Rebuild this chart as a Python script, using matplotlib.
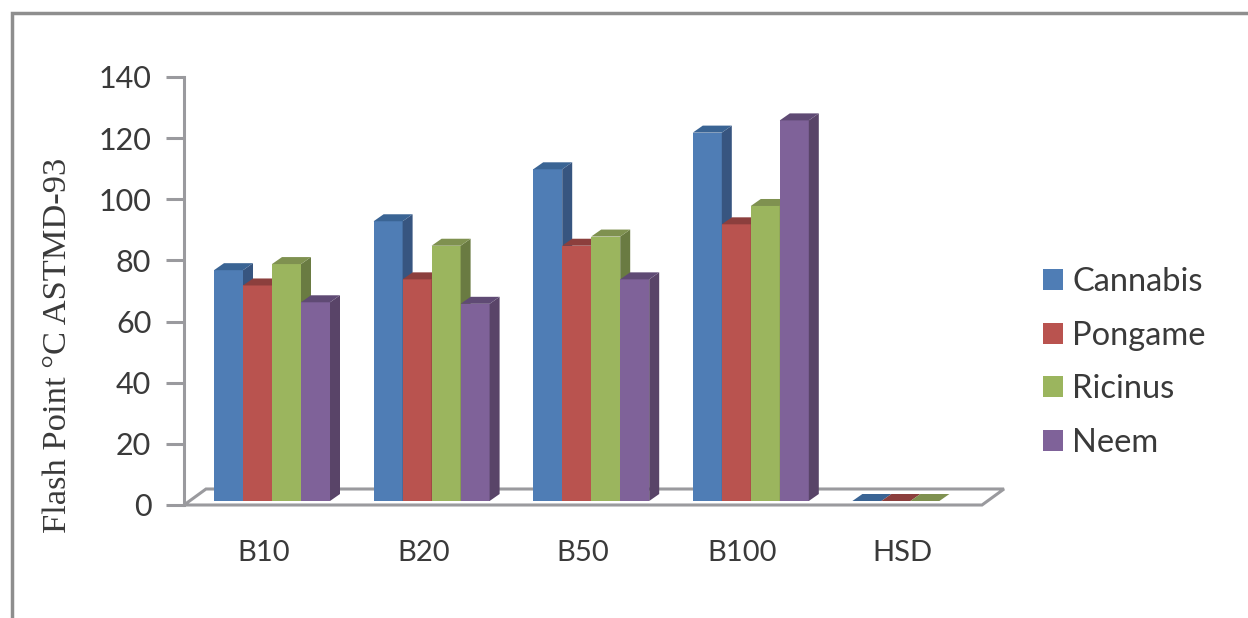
import numpy as np
import matplotlib.pyplot as plt
from matplotlib.lines import Line2D
from matplotlib.patches import Polygon

categories = ["B10", "B20", "B50", "B100", "HSD"]
cannabis = [75.5, 91.5, 108.5, 120.5, 0]
pongame = [70.5, 72.5, 83.5, 90.5, 0]
ricinus = [77.5, 83.5, 86.5, 96.5, 0]
neem = [65, 64.5, 72.5, 124.5, 0]
y_ticks = [0, 20, 40, 60, 80, 100, 120, 140]

names = ["Cannabis", "Pongame", "Ricinus", "Neem"]
series = [cannabis, pongame, ricinus, neem]
front = ["#4F7DB5", "#B9534F", "#9BB55E", "#7F6299"]
top = ["#3A6494", "#8C3F3D", "#7F9150", "#5F4A74"]
side = ["#375580", "#7E3A38", "#6A7B42", "#594468"]

W, H = 1248, 618
GRAY = "#9A9A9E"
TEXT = "#3A3A3A"
plt.rcParams['font.family'] = ['Lato', 'DejaVu Sans']

fig = plt.figure(figsize=(W / 100, H / 100), dpi=100)
# axes = front plane of the 3D box
ax = fig.add_axes([184 / W, 1 - 505 / H, 798 / W, 428 / H])
ax.set_xlim(0, 5)
ax.set_ylim(0, 140)
ax.patch.set_visible(False)
for s in ["top", "right", "bottom"]:
    ax.spines[s].set_visible(False)
ax.spines["left"].set_color(GRAY)
ax.spines["left"].set_linewidth(2.2)

# depth offsets in data units
px_x = 5 / 798
px_y = 140 / 428
floor_dx, floor_dy = 22 * px_x, 16 * px_y
bar_dx, bar_dy = 10 * px_x, 7 * px_y
bar_w = 29 * px_x
bar_base = 4 * px_y
first_left = 30 * px_x

# floor
ax.add_patch(Polygon([(0, 0), (floor_dx, floor_dy), (5 + floor_dx, floor_dy), (5, 0)],
                     closed=True, facecolor="white", edgecolor=GRAY, linewidth=2.2,
                     clip_on=False, zorder=1, joinstyle="miter"))

for c in range(len(categories)):
    for i in range(len(names)):
        v = series[i][c]
        if c == 4 and i == 3:
            continue
        x0 = c + first_left + i * bar_w
        x1 = x0 + bar_w
        y1 = bar_base + v
        if v > 0:
            ax.bar(x0, v, bar_w, bottom=bar_base, align="edge", color=front[i], zorder=3 + i * 0.01)
            ax.add_patch(Polygon([(x1, bar_base), (x1 + bar_dx, bar_base + bar_dy),
                                  (x1 + bar_dx, y1 + bar_dy), (x1, y1)],
                                 closed=True, facecolor=side[i], edgecolor="none", zorder=3 + i * 0.01))
        ax.add_patch(Polygon([(x0, y1), (x0 + bar_dx, y1 + bar_dy),
                              (x1 + bar_dx, y1 + bar_dy), (x1, y1)],
                             closed=True, facecolor=top[i], edgecolor="none", zorder=3 + i * 0.01))

ax.set_xticks(np.arange(5) + 0.5)
ax.set_xticklabels(categories, fontsize=21, color=TEXT)
ax.tick_params(axis="x", length=0, pad=25)
ax.set_yticks(y_ticks)
ax.tick_params(axis="y", direction="out", length=13, width=2.2, color=GRAY,
               labelsize=22, labelcolor=TEXT, pad=10.5)

fig.text(58 / W, 1 - 345 / H, "Flash Point °C ASTMD-93", rotation=90, ha="center", va="center",
         fontsize=24.8, color=TEXT, family="Liberation Serif")

handles = [plt.Rectangle((0, 0), 1, 1, facecolor=f, edgecolor="none") for f in front]
fig.legend(handles, names, loc="center left", bbox_to_anchor=(1043 / W, 1 - 362.5 / H),
           frameon=False, fontsize=23.5, labelcolor=TEXT, handlelength=0.62, handleheight=0.62,
           handletextpad=0.28, labelspacing=0.72, borderpad=0, borderaxespad=0)

# picture frame, left and top only
fig.add_artist(Line2D([12 / W, 12 / W, 1], [0, 1 - 13 / H, 1 - 13 / H], color="#8E8E8E",
                      linewidth=2.5, solid_joinstyle="miter"))

fig.savefig("out.png", dpi=100)
